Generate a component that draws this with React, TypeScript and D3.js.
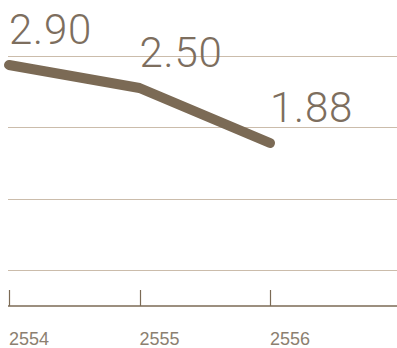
import React from "react";
import * as d3 from "d3";

const years = ["2554", "2555", "2556"];
const values = [2.9, 2.5, 1.88];
const valueLabels = ["2.90", "2.50", "1.88"];
const gridLevels = [0, 1, 2, 3];

const W = 397;
const H = 348;

export default function App() {
  const x = d3.scaleBand<string>().domain(years).range([9, 400.5]).padding(0);
  // visual (non-proportional) vertical placement as in the reference
  const y = d3.scalePow().exponent(-1).domain([1.88, 2.9]).range([143, 65]);
  const g = d3.scaleLinear().domain([0, 3]).range([270, 56]);

  const line = d3
    .line<number>()
    .x((_, i) => x(years[i]) as number)
    .y((d) => y(d));

  const lineColor = "#7b6a55";
  const gridColor = "#cbbcab";
  const axisY = 306;

  return (
    <svg
      width={W}
      height={H}
      style={{ position: "absolute", left: 0, top: 0, background: "#fff" }}
    >
      {gridLevels.map((lv) => (
        <line
          key={lv}
          x1={8}
          x2={W}
          y1={Math.round(g(lv)) + 0.5}
          y2={Math.round(g(lv)) + 0.5}
          stroke={gridColor}
          strokeWidth={1}
        />
      ))}
      <path
        d={line(values) || ""}
        fill="none"
        stroke={lineColor}
        strokeWidth={10}
        strokeLinecap="round"
        strokeLinejoin="round"
      />
      {values.map((v, i) => (
        <text
          key={years[i]}
          x={(x(years[i]) as number) + 0}
          y={y(v) - 21}
          fontFamily="Roboto, 'Liberation Sans', sans-serif"
          fontWeight={300}
          fontSize={42}
          letterSpacing={0.8}
          fill="#7d6e5e"
        >
          {valueLabels[i]}
        </text>
      ))}
      <line x1={8} x2={W} y1={axisY} y2={axisY} stroke={lineColor} strokeWidth={1.5} />
      {years.map((yr) => (
        <line
          key={yr}
          x1={Math.round(x(yr) as number) + 0.5}
          x2={Math.round(x(yr) as number) + 0.5}
          y1={290}
          y2={axisY}
          stroke={lineColor}
          strokeWidth={1.2}
        />
      ))}
      {years.map((yr) => (
        <text
          key={yr}
          x={x(yr) as number}
          y={345}
          fontFamily="'Liberation Sans', Arial, sans-serif"
          fontSize={18}
          fill="#8c7f70"
        >
          {yr}
        </text>
      ))}
    </svg>
  );
}
